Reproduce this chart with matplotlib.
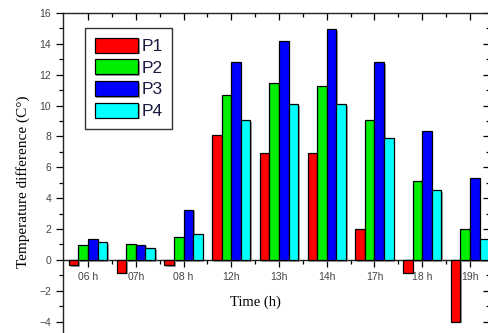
import matplotlib
matplotlib.use('Agg')
import matplotlib.pyplot as plt
import matplotlib.patheffects as pe
from matplotlib.ticker import MultipleLocator
import numpy as np

hours = ['06 h', '07h', '08 h', '12h', '13h', '14h', '17h', '18 h', '19h']
p1 = [-0.35, -0.82, -0.35, 8.07, 6.9, 6.9, 2.0, -0.82, -4.0]
p2 = [0.98, 1.04, 1.45, 10.7, 11.45, 11.25, 9.05, 5.1, 2.0]
p3 = [1.38, 0.98, 3.25, 12.8, 14.18, 14.97, 12.8, 8.36, 5.28]
p4 = [1.15, 0.76, 1.67, 9.07, 10.07, 10.07, 7.88, 4.5, 1.38]
series = [('P1', p1, '#ff0000'), ('P2', p2, '#00ee00'),
          ('P3', p3, '#0000ff'), ('P4', p4, '#00ffff')]

fig = plt.figure(figsize=(4.89, 3.33), dpi=100)
ax = fig.add_axes([63/489, -4/333, 427.5/489, 324/333])

x = np.arange(len(hours))
w = 0.2
shadow = [pe.SimplePatchShadow(offset=(1.2, -1.2), shadow_rgbFace='#888888', alpha=0.8), pe.Normal()]
for i, (name, vals, col) in enumerate(series):
    bars = ax.bar(x + (i - 1.5) * w, vals, w, color=col, edgecolor='black',
                  linewidth=0.9, label=name, zorder=3)
    for b in bars:
        b.set_path_effects(shadow)

ax.set_xlim(-0.524, 8.43)
ax.set_ylim(-5, 16)
ax.spines['bottom'].set_position(('data', 0))
for s in ax.spines.values():
    s.set_linewidth(1.0)
    s.set_color('#222222')

ax.set_xticks(x)
ax.set_xticklabels(hours)
ax.set_xticks(x[:-1] + 0.5, minor=True)
ax.yaxis.set_minor_locator(MultipleLocator(1))
ax.set_yticks(np.arange(-4, 17, 2))

ax.tick_params(axis='x', which='both', direction='out', top=True, labeltop=False,
               labelsize=7.5, labelcolor='#444444', pad=4, width=0.9)
ax.tick_params(axis='x', which='major', length=5)
ax.tick_params(axis='x', which='minor', length=3)
ax.tick_params(axis='y', which='both', direction='out', right=True,
               labelsize=7.5, labelcolor='#444444', width=0.9)
ax.tick_params(axis='y', which='major', length=5)
ax.tick_params(axis='y', which='minor', length=3)
# top and right ticks point inward
for t in ax.xaxis.get_major_ticks() + ax.xaxis.get_minor_ticks():
    t.tick2line.set_marker(matplotlib.lines.TICKDOWN)
for t in ax.yaxis.get_major_ticks() + ax.yaxis.get_minor_ticks():
    t.tick2line.set_marker(matplotlib.lines.TICKLEFT)

for lab in ax.get_xticklabels() + ax.get_yticklabels():
    lab.set_family('Liberation Sans')

fig.text(23/489, 1 - 182/333, 'Temperature difference (C°)', rotation=90,
         ha='center', va='center', family='Liberation Serif', fontsize=11)
fig.text(255/489, 1 - 302/333, 'Time (h)', ha='center', va='center',
         family='Liberation Serif', fontsize=10.5)

leg = ax.legend(loc='upper left', bbox_to_anchor=(22/427.5, 1 - 15/324),
                prop={'family': 'Liberation Sans', 'size': 12.5},
                handlelength=2.5, handleheight=0.95, handletextpad=0.2,
                labelspacing=0.3, borderpad=0.55, borderaxespad=0,
                fancybox=False, framealpha=1, edgecolor='#333333')
leg.get_frame().set_linewidth(1.0)
for t in leg.get_texts():
    t.set_color('#1a1a40')

fig.savefig('out.png', dpi=100)
